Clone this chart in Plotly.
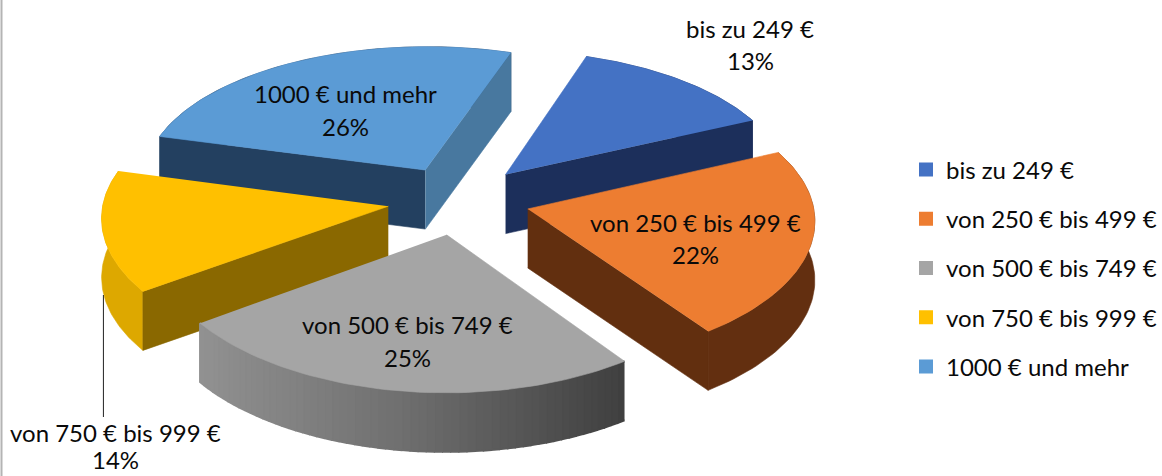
import numpy as np
import plotly.graph_objects as go

categories = ["bis zu 249 €", "von 250 € bis 499 €", "von 500 € bis 749 €", "von 750 € bis 999 €", "1000 € und mehr"]
shares = [13, 22, 25, 14, 26]

top_colors = ["#4472c4", "#ed7d31", "#a5a5a5", "#ffc000", "#5b9bd5"]
legend_colors = top_colors
wall_colors = ["#1f3360", "#632f10", None, "#dda800", "#234060"]
start_cut_colors = [None, None, None, "#8a6800", "#234060"]
end_cut_colors = ["#1c2f5b", "#622f0f", None, None, "#48789f"]

START_DEG = 18.5
CX, CY = 459.0, 200.0
RX, RY = 285.0, 138.5
PERSP_X = 0.07
PERSP_Y = 0.084
EXPLODE = 0.25
DEPTH = 59.0
FONT = "Lato"
FS = 24


def project(X, Y):
    Y = np.asarray(Y)
    return CX + RX * np.asarray(X) / (1 + PERSP_X * Y), CY - RY * Y / (1 + PERSP_Y * Y)


def poly(fig, xs, ys, color, lw=0.6):
    fig.add_trace(go.Scatter(x=list(xs), y=list(ys), mode="lines", fill="toself",
                             fillcolor=color, line=dict(color=color, width=lw),
                             hoverinfo="skip", showlegend=False))


def gray_shade(x):
    stops_x = [200, 400, 625]
    stops_v = [146, 112, 64]
    v = int(np.interp(x, stops_x, stops_v))
    return f"rgb({v},{v},{v})"


fig = go.Figure()

cum = np.cumsum([0] + shares) / sum(shares) * 360.0 + START_DEG
slices = []
for i in range(len(shares)):
    a0, a1 = np.radians(cum[i]), np.radians(cum[i + 1])
    m = (a0 + a1) / 2
    ox, oy = EXPLODE * np.sin(m), EXPLODE * np.cos(m)
    t = np.linspace(a0, a1, 61)
    rx_, ry_ = project(ox + np.sin(t), oy + np.cos(t))
    ax, ay = project(ox, oy)
    slices.append((i, float(ax), float(ay), rx_, ry_))

for i in [4, 0, 3, 1, 2]:
    _, ax, ay, rx_, ry_ = slices[i]
    if wall_colors[i]:
        poly(fig, np.r_[rx_, rx_[::-1]], np.r_[ry_, ry_[::-1] + DEPTH], wall_colors[i])
    else:
        for k in range(len(rx_) - 1):
            xs = [rx_[k], rx_[k + 1], rx_[k + 1], rx_[k]]
            ys = [ry_[k], ry_[k + 1], ry_[k + 1] + DEPTH, ry_[k] + DEPTH]
            poly(fig, xs, ys, gray_shade((rx_[k] + rx_[k + 1]) / 2), lw=2)
    if start_cut_colors[i]:
        poly(fig, [ax, rx_[0], rx_[0], ax], [ay, ry_[0], ry_[0] + DEPTH, ay + DEPTH], start_cut_colors[i])
    if end_cut_colors[i]:
        poly(fig, [ax, rx_[-1], rx_[-1], ax], [ay, ry_[-1], ry_[-1] + DEPTH, ay + DEPTH], end_cut_colors[i])
    poly(fig, np.r_[ax, rx_], np.r_[ay, ry_], top_colors[i])

for name, color in zip(categories, legend_colors):
    fig.add_trace(go.Scatter(x=[None], y=[None], mode="markers", name=name, legendgroup=name,
                             marker=dict(symbol="square", size=14, color=color)))

label_pos = [(751, 28, 60), (696, 222, 254), (408, 324, 357), (116, 432, 459), (346, 93, 126)]
for name, share, (lx, ly1, ly2) in zip(categories, shares, label_pos):
    for txt, ly in ((name, ly1), (f"{share}%", ly2)):
        fig.add_annotation(x=lx, y=ly, xref="x", yref="y", text=txt, showarrow=False,
                           font=dict(family=FONT, size=FS, color="#0a0a0a"),
                           xanchor="center", yanchor="middle")

fig.add_shape(type="line", x0=103.5, x1=103.5, y0=295, y1=417, xref="x", yref="y",
              line=dict(color="#222222", width=1))
fig.add_shape(type="line", x0=1.5, x1=1.5, y0=0, y1=476, xref="x", yref="y",
              line=dict(color="#b4b4b4", width=2))

fig.update_xaxes(range=[0, 1162], visible=False, fixedrange=True)
fig.update_yaxes(range=[476, 0], visible=False, fixedrange=True)
fig.update_layout(
    width=1162, height=476, margin=dict(l=0, r=0, t=0, b=0),
    paper_bgcolor="white", plot_bgcolor="white",
    font=dict(family=FONT, size=FS, color="#0a0a0a"),
    legend=dict(x=907 / 1162, xanchor="left", y=0.5 + (476 / 2 - 268) / 476, yanchor="middle",
                tracegroupgap=15, traceorder="grouped", itemclick=False, itemdoubleclick=False,
                bgcolor="rgba(0,0,0,0)"),
)
fig.write_html("out.html", config=dict(displayModeBar=False),
               post_script="document.body.style.margin='0';")
